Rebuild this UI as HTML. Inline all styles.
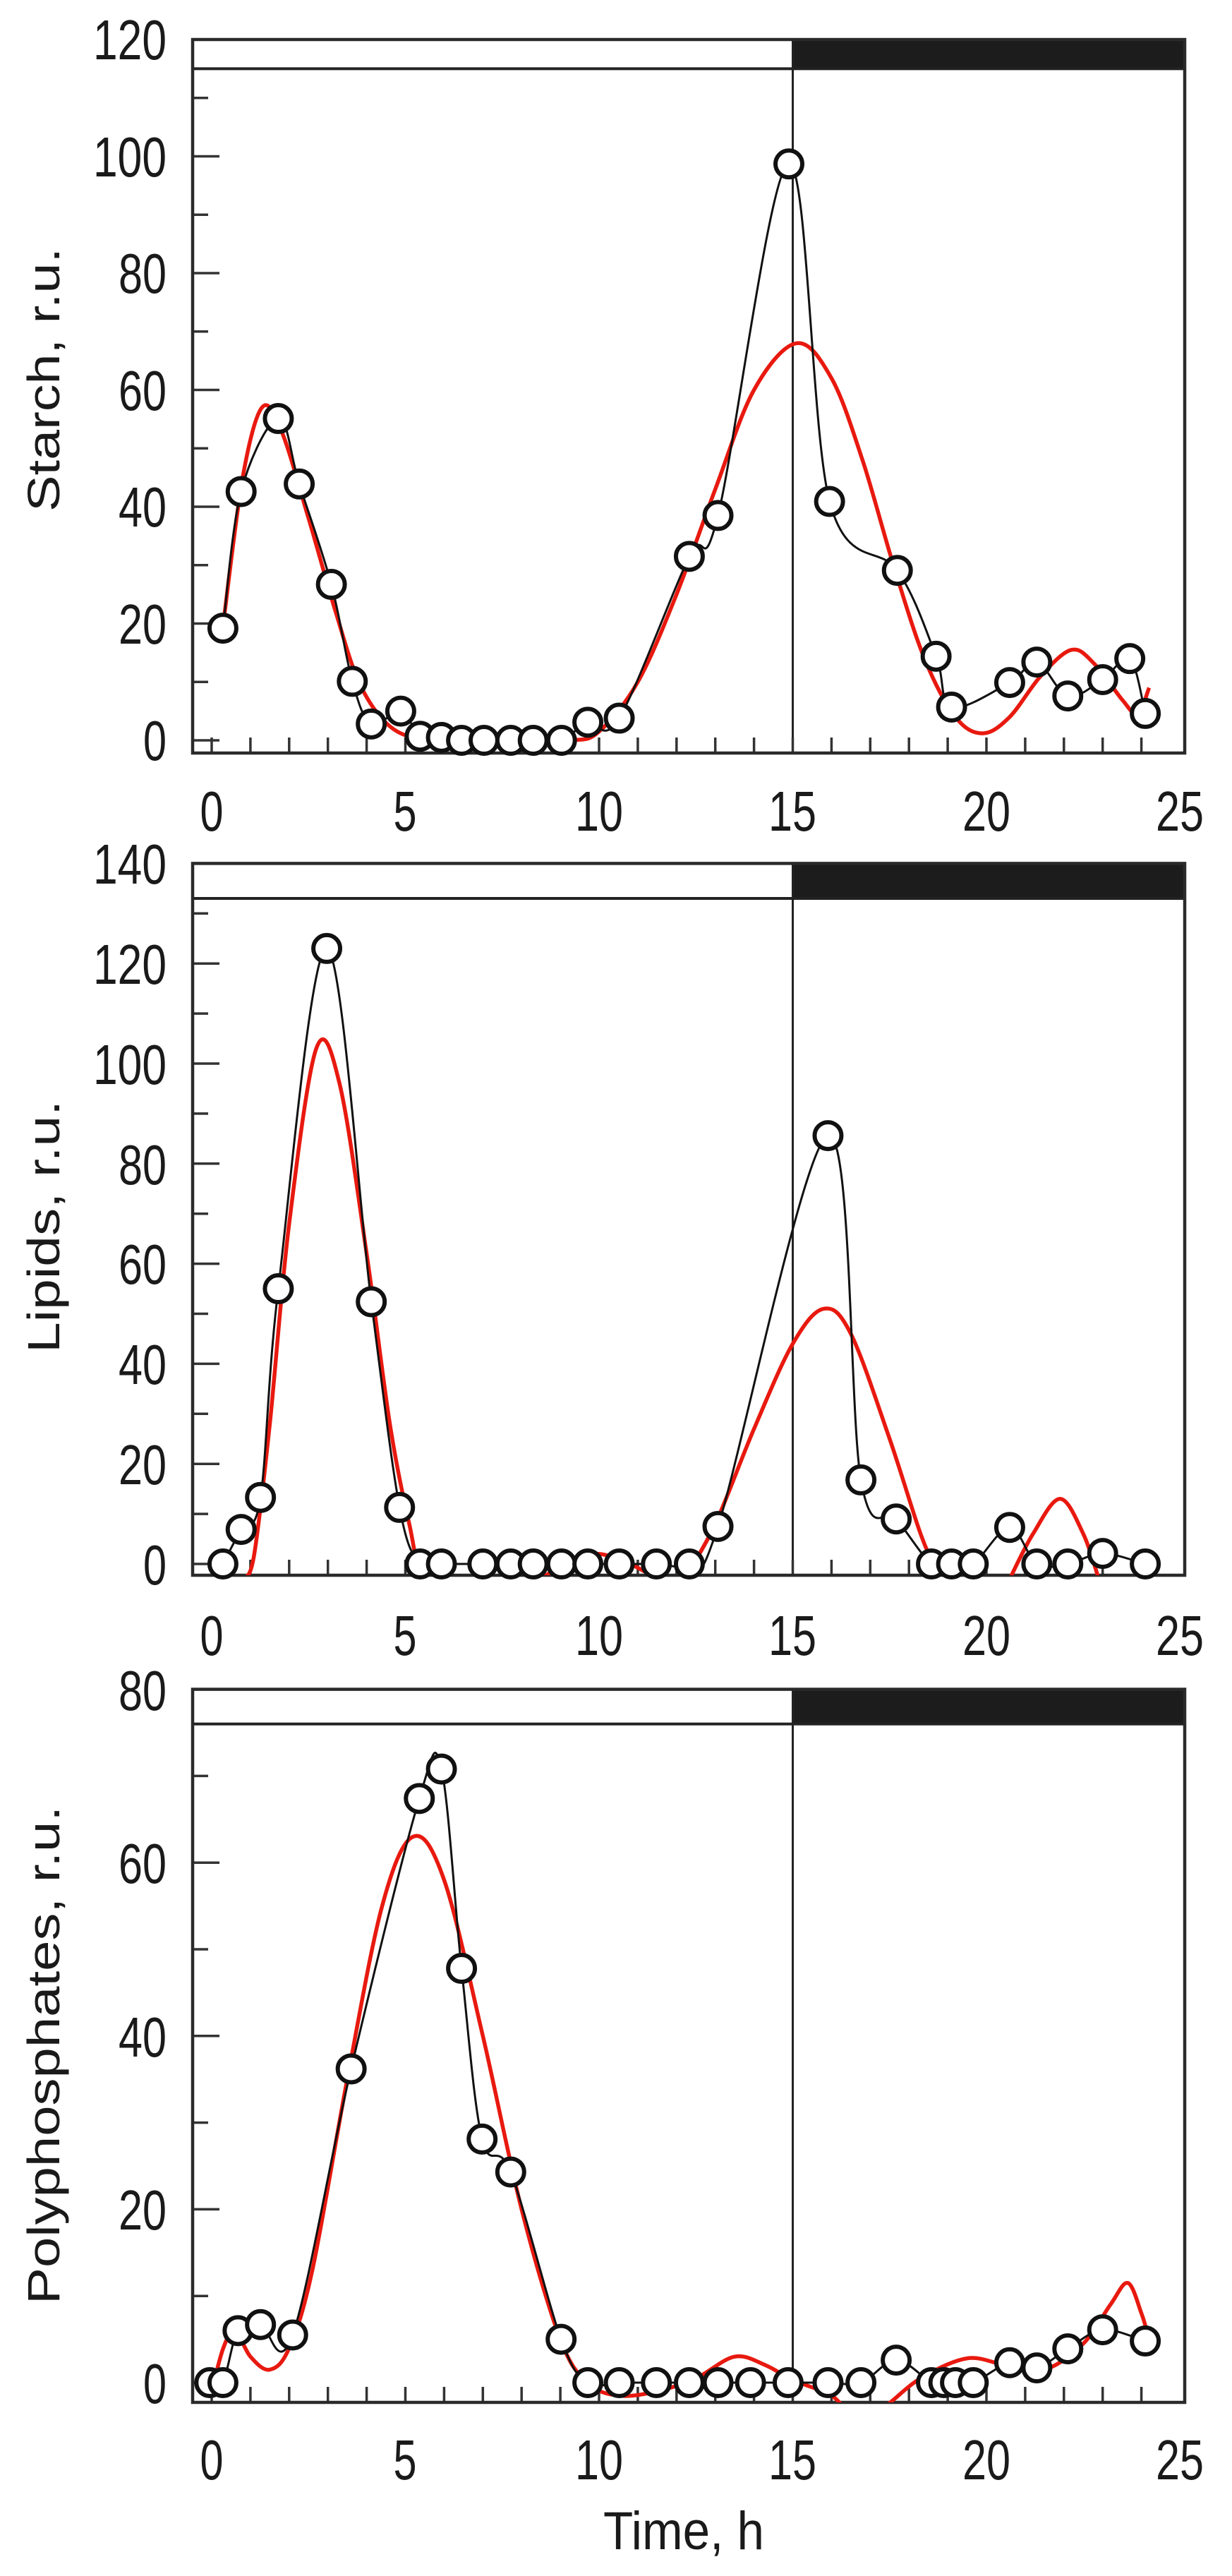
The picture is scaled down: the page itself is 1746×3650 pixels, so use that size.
<!DOCTYPE html>
<html><head><meta charset="utf-8"><style>
html,body{margin:0;padding:0;background:#fff;}
svg{display:block;}
text{font-family:"Liberation Sans",Arial,sans-serif;fill:#1a1a1a;}
</style></head><body>
<svg id="s" width="1746" height="3650" viewBox="0 0 1746 3650" xmlns="http://www.w3.org/2000/svg">
<g id="g"></g>
<!-- Panel 1 labels -->
<g font-size="80" text-anchor="end">
<text x="236" y="1077" textLength="33" lengthAdjust="spacingAndGlyphs">0</text>
<text x="236" y="912" textLength="68" lengthAdjust="spacingAndGlyphs">20</text>
<text x="236" y="746" textLength="68" lengthAdjust="spacingAndGlyphs">40</text>
<text x="236" y="581" textLength="68" lengthAdjust="spacingAndGlyphs">60</text>
<text x="236" y="415" textLength="68" lengthAdjust="spacingAndGlyphs">80</text>
<text x="236" y="250" textLength="104" lengthAdjust="spacingAndGlyphs">100</text>
<text x="236" y="84" textLength="104" lengthAdjust="spacingAndGlyphs">120</text>
</g>
<g font-size="80" text-anchor="middle">
<text x="300" y="1177" textLength="33" lengthAdjust="spacingAndGlyphs">0</text><text x="574" y="1177" textLength="33" lengthAdjust="spacingAndGlyphs">5</text><text x="849" y="1177" textLength="68" lengthAdjust="spacingAndGlyphs">10</text><text x="1123" y="1177" textLength="68" lengthAdjust="spacingAndGlyphs">15</text><text x="1398" y="1177" textLength="68" lengthAdjust="spacingAndGlyphs">20</text><text x="1672" y="1177" textLength="68" lengthAdjust="spacingAndGlyphs">25</text>
</g>
<text transform="translate(84,538) rotate(-90)" font-size="64" text-anchor="middle" textLength="374" lengthAdjust="spacingAndGlyphs">Starch, r.u.</text>
<!-- Panel 2 labels -->
<g font-size="80" text-anchor="end">
<text x="236" y="2245" textLength="33" lengthAdjust="spacingAndGlyphs">0</text>
<text x="236" y="2103" textLength="68" lengthAdjust="spacingAndGlyphs">20</text>
<text x="236" y="1961" textLength="68" lengthAdjust="spacingAndGlyphs">40</text>
<text x="236" y="1819" textLength="68" lengthAdjust="spacingAndGlyphs">60</text>
<text x="236" y="1678" textLength="68" lengthAdjust="spacingAndGlyphs">80</text>
<text x="236" y="1536" textLength="104" lengthAdjust="spacingAndGlyphs">100</text>
<text x="236" y="1394" textLength="104" lengthAdjust="spacingAndGlyphs">120</text>
<text x="236" y="1252" textLength="104" lengthAdjust="spacingAndGlyphs">140</text>
</g>
<g font-size="80" text-anchor="middle">
<text x="300" y="2345" textLength="33" lengthAdjust="spacingAndGlyphs">0</text><text x="574" y="2345" textLength="33" lengthAdjust="spacingAndGlyphs">5</text><text x="849" y="2345" textLength="68" lengthAdjust="spacingAndGlyphs">10</text><text x="1123" y="2345" textLength="68" lengthAdjust="spacingAndGlyphs">15</text><text x="1398" y="2345" textLength="68" lengthAdjust="spacingAndGlyphs">20</text><text x="1672" y="2345" textLength="68" lengthAdjust="spacingAndGlyphs">25</text>
</g>
<text transform="translate(84,1738) rotate(-90)" font-size="64" text-anchor="middle" textLength="358" lengthAdjust="spacingAndGlyphs">Lipids, r.u.</text>
<!-- Panel 3 labels -->
<g font-size="80" text-anchor="end">
<text x="236" y="3405" textLength="33" lengthAdjust="spacingAndGlyphs">0</text>
<text x="236" y="3159" textLength="68" lengthAdjust="spacingAndGlyphs">20</text>
<text x="236" y="2914" textLength="68" lengthAdjust="spacingAndGlyphs">40</text>
<text x="236" y="2668" textLength="68" lengthAdjust="spacingAndGlyphs">60</text>
<text x="236" y="2423" textLength="68" lengthAdjust="spacingAndGlyphs">80</text>
</g>
<g font-size="80" text-anchor="middle">
<text x="300" y="3513" textLength="33" lengthAdjust="spacingAndGlyphs">0</text><text x="574" y="3513" textLength="33" lengthAdjust="spacingAndGlyphs">5</text><text x="849" y="3513" textLength="68" lengthAdjust="spacingAndGlyphs">10</text><text x="1123" y="3513" textLength="68" lengthAdjust="spacingAndGlyphs">15</text><text x="1398" y="3513" textLength="68" lengthAdjust="spacingAndGlyphs">20</text><text x="1672" y="3513" textLength="68" lengthAdjust="spacingAndGlyphs">25</text>
</g>
<text transform="translate(84,2912) rotate(-90)" font-size="64" text-anchor="middle" textLength="706" lengthAdjust="spacingAndGlyphs">Polyphosphates, r.u.</text>
<text x="969" y="3612" font-size="76" text-anchor="middle" textLength="228" lengthAdjust="spacingAndGlyphs">Time, h</text>
</svg>
<script>
(function(){
var NS="http://www.w3.org/2000/svg", g=document.getElementById("g");
function el(t,a,p){var e=document.createElementNS(NS,t);for(var k in a)e.setAttribute(k,a[k]);(p||g).appendChild(e);return e;}
function X(t){return 300+54.9*t;}
function cr(pts){
  var d="M"+pts[0][0].toFixed(1)+","+pts[0][1].toFixed(1);
  for(var i=0;i<pts.length-1;i++){
    var p0=pts[i-1]||pts[i],p1=pts[i],p2=pts[i+1],p3=pts[i+2]||p2;
    var c1=[p1[0]+(p2[0]-p0[0])/6,p1[1]+(p2[1]-p0[1])/6];
    var c2=[p2[0]-(p3[0]-p1[0])/6,p2[1]-(p3[1]-p1[1])/6];
    d+="C"+c1[0].toFixed(1)+","+c1[1].toFixed(1)+" "+c2[0].toFixed(1)+","+c2[1].toFixed(1)+" "+p2[0].toFixed(1)+","+p2[1].toFixed(1);
  }
  return d;
}
var panels=[
 {y0:1049,k:8.275,vmax:120,band:115,bottom:1067,
  data:[[0.29,19.2],[0.76,42.6],[1.72,55.1],[2.26,43.9],[3.09,26.7],[3.63,10.1],[4.12,2.8],[4.88,5],[5.38,0.7],[5.93,0.5],[6.45,0],[7.03,0],[7.72,0],[8.3,0],[9.03,0],[9.71,3.1],[10.52,3.8],[12.33,31.5],[13.07,38.5],[14.9,98.7],[15.95,40.9],[17.7,29.1],[18.7,14.4],[19.1,5.7],[20.6,9.9],[21.3,13.4],[22.1,7.6],[23.0,10.4],[23.7,14],[24.1,4.6]],
  red:[[0.3,20],[0.8,45],[1.3,57],[1.8,53],[2.5,38],[3.2,22],[3.8,10],[4.5,3],[5.3,0.3],[6.5,0],[8,0],[9.3,0],[10,1.5],[11,10],[12,25],[13,43],[14,60],[15.1,68],[16,62],[16.8,48],[17.6,30],[18.4,14],[19.2,4],[19.9,1.2],[20.6,4],[21.4,11],[22.2,15.5],[22.8,13],[23.5,7],[23.9,4.5],[24.2,9]]},
 {y0:2216,k:7.09,vmax:140,band:133,bottom:2232,
  data:[[0.29,0],[0.76,6.9],[1.26,13.3],[1.72,55],[2.97,123],[4.12,52.4],[4.85,11.3],[5.38,0],[5.93,0],[7.0,0],[7.72,0],[8.3,0],[9.03,0],[9.71,0],[10.52,0],[11.48,0],[12.33,0],[13.07,7.5],[15.91,85.6],[16.76,16.8],[17.67,9],[18.58,0],[19.1,0],[19.66,0],[20.6,7.3],[21.3,0],[22.1,0],[23.0,2.1],[24.1,0]],
  red:[[0.85,-3],[1.1,2],[1.5,28],[2.0,68],[2.7,103],[3.3,96],[4.0,62],[4.6,28],[5.1,8],[5.5,-3],[6.5,-3]],
  red2:[[8.5,-3],[9.3,1],[10,2],[10.8,0],[11.5,-3]],
  red3:[[12.2,-3],[13,8],[14,27],[15,44],[15.8,51],[16.5,46],[17.5,25],[18.3,6],[18.8,-3]],
  red4:[[20.6,-3],[21.2,6],[21.9,13],[22.5,6],[22.9,-3]]},
 {y0:3376,k:12.28,vmax:80,band:76,bottom:3404,
  data:[[-0.05,0],[0.29,0],[0.68,6],[1.26,6.7],[2.09,5.5],[3.6,36.2],[5.36,67.4],[5.93,70.8],[6.45,47.8],[6.98,28.1],[7.72,24.3],[9.02,5],[9.71,0],[10.52,0],[11.48,0],[12.33,0],[13.07,0],[13.91,0],[14.88,0],[15.91,0],[16.76,0],[17.67,2.6],[18.58,0],[18.9,0],[19.2,0],[19.66,0],[20.6,2.3],[21.3,1.7],[22.1,3.9],[23.0,6.1],[24.1,4.8]],
  red:[[0,-1],[0.3,4],[0.6,6],[1.0,3],[1.5,1.5],[2.0,4],[2.6,13],[3.5,35],[4.4,55],[5.2,63],[6,58],[7,40],[8,20],[9,5],[9.7,0],[10.5,-1.5],[11.5,-1],[12.5,0.5],[13.5,3],[14.3,2],[15,0.3],[16,-1.5],[16.6,-4],[17.3,-3],[18.3,0.5],[19.5,2.8],[20.5,2],[21.5,1.5],[22.5,4.5],[23.2,9],[23.65,11.5],[24.0,8],[24.2,5]]}
];
panels.forEach(function(P,i){
  var Y=function(v){return P.y0-P.k*v;};
  var L=273,R=1679,T=Y(P.vmax),B=P.bottom,bb=Y(P.band),x15=X(15);
  var cid="c"+i;
  var cp=el("clipPath",{id:cid});el("rect",{x:L,y:bb,width:R-L,height:B-bb},cp);
  el("rect",{x:x15,y:T,width:R-x15,height:bb-T,fill:"#1c1c1c"});
  el("line",{x1:L,y1:bb,x2:R,y2:bb,stroke:"#222","stroke-width":4});
  el("line",{x1:x15,y1:T,x2:x15,y2:B,stroke:"#222","stroke-width":3});
  for(var t=0;t<=24;t++){el("line",{x1:X(t),y1:B,x2:X(t),y2:B-22,stroke:"#333","stroke-width":3.5});}
  for(var v=0;v<P.band;v+=10){var w=(v%20==0)?38:22;el("line",{x1:L,y1:Y(v),x2:L+w,y2:Y(v),stroke:"#333","stroke-width":3.5});}
  el("rect",{x:L,y:T,width:R-L,height:B-T,fill:"none",stroke:"#2a2a2a","stroke-width":4.5});
  var gg=el("g",{"clip-path":"url(#"+cid+")"});
  ["red","red2","red3","red4"].forEach(function(k){
    if(!P[k])return;
    el("path",{d:cr(P[k].map(function(p){return [X(p[0]),Y(p[1])];})),fill:"none",stroke:"#e8190f","stroke-width":5.5},gg);
  });
  var pts=P.data.map(function(p){return [X(p[0]),Y(p[1])];});
  el("path",{d:cr(pts),fill:"none",stroke:"#111","stroke-width":3},gg);
  pts.forEach(function(p){el("ellipse",{cx:p[0],cy:p[1],rx:19,ry:19,fill:"#fff",stroke:"#111","stroke-width":6});});
});
})();
</script>
</body></html>
